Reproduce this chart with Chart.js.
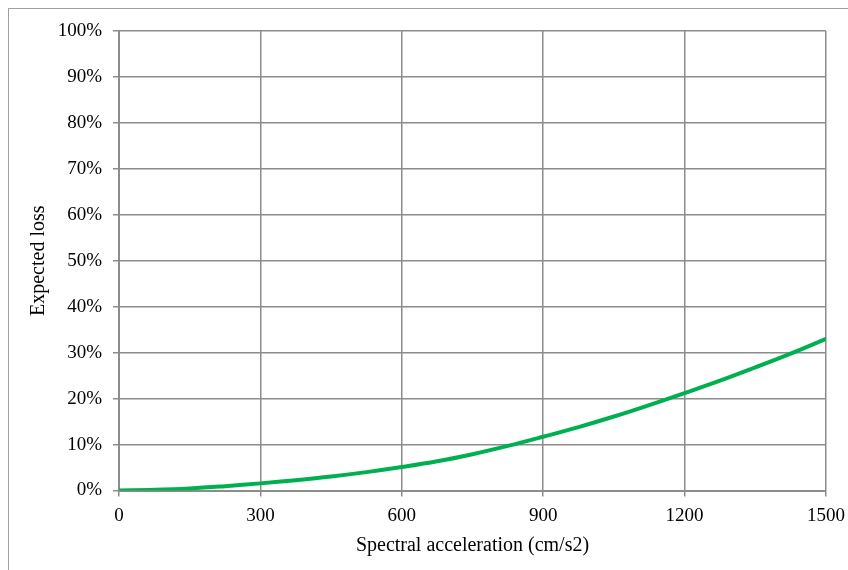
<!DOCTYPE html>
<html>
<head>
<meta charset="utf-8">
<script src="https://cdn.jsdelivr.net/npm/chart.js@4"></script>
<style>
  html, body { margin: 0; padding: 0; background: #fff; overflow: hidden; }
  #wrap { position: relative; width: 848px; height: 570px; }
  #frame { position: absolute; left: 8px; top: 8px; width: 900px; height: 600px; border: 1px solid #a0a0a0; }
  canvas { position: absolute; left: 0; top: 0; }
</style>
</head>
<body>
<div id="wrap">
  <div id="frame"></div>
  <canvas id="chart" width="848" height="570"></canvas>
</div>
<script>
// spectral acceleration (cm/s2) and expected loss
const accel = [0, 75, 150, 225, 300, 375, 450, 525, 600, 675, 750, 825, 900, 975, 1050, 1125, 1200, 1275, 1350, 1425, 1500];
const loss  = [0, 0.0015, 0.0045, 0.0095, 0.0155, 0.0225, 0.0305, 0.040, 0.051, 0.0635, 0.079, 0.097, 0.117, 0.138, 0.161, 0.186, 0.212, 0.239, 0.268, 0.298, 0.330];

const gridColor = '#8c8c8c';
const serif = "'Liberation Serif', 'Times New Roman', serif";
const tickFont = { family: serif, size: 19 };
const titleFont = { family: serif, size: 20 };

const points = accel.map((a, i) => ({ x: a, y: loss[i] }));

const ctx = document.getElementById('chart').getContext('2d');
new Chart(ctx, {
  type: 'line',
  data: {
    datasets: [{
      data: points,
      borderColor: '#00b050',
      borderWidth: 4,
      pointRadius: 0,
      fill: false,
      tension: 0.4
    }]
  },
  options: {
    responsive: false,
    animation: false,
    layout: { padding: { left: 0, top: 31, right: 22, bottom: 0 } },
    plugins: { legend: { display: false }, tooltip: { enabled: false } },
    scales: {
      x: {
        type: 'linear',
        min: 0,
        max: 1500,
        ticks: {
          stepSize: 300,
          color: '#000',
          font: tickFont,
          padding: 8,
          maxRotation: 0,
          callback: (v) => String(v)
        },
        grid: { color: gridColor, lineWidth: 1.5, tickLength: 6 },
        border: { color: gridColor, width: 2 },
        title: { display: true, text: 'Spectral acceleration (cm/s2)', color: '#000', font: titleFont, padding: { top: 0, bottom: 12 } },
        afterFit: (scale) => {
          scale.height = 79.5;
          // keep the plot's right edge where the reference has it
          scale.paddingRight = 0;
          scale.paddingLeft = 0;
        }
      },
      y: {
        min: 0,
        max: 1,
        ticks: {
          stepSize: 0.1,
          color: '#000',
          font: tickFont,
          padding: 11,
          callback: (v) => Math.round(v * 100) + '%'
        },
        grid: { color: gridColor, lineWidth: 1.5, tickLength: 6 },
        border: { color: gridColor, width: 2 },
        title: { display: true, text: 'Expected loss', color: '#000', font: titleFont, padding: { top: 27, bottom: 0 } },
        afterFit: (scale) => { scale.width = 119; }
      }
    }
  }
});
</script>
</body>
</html>
